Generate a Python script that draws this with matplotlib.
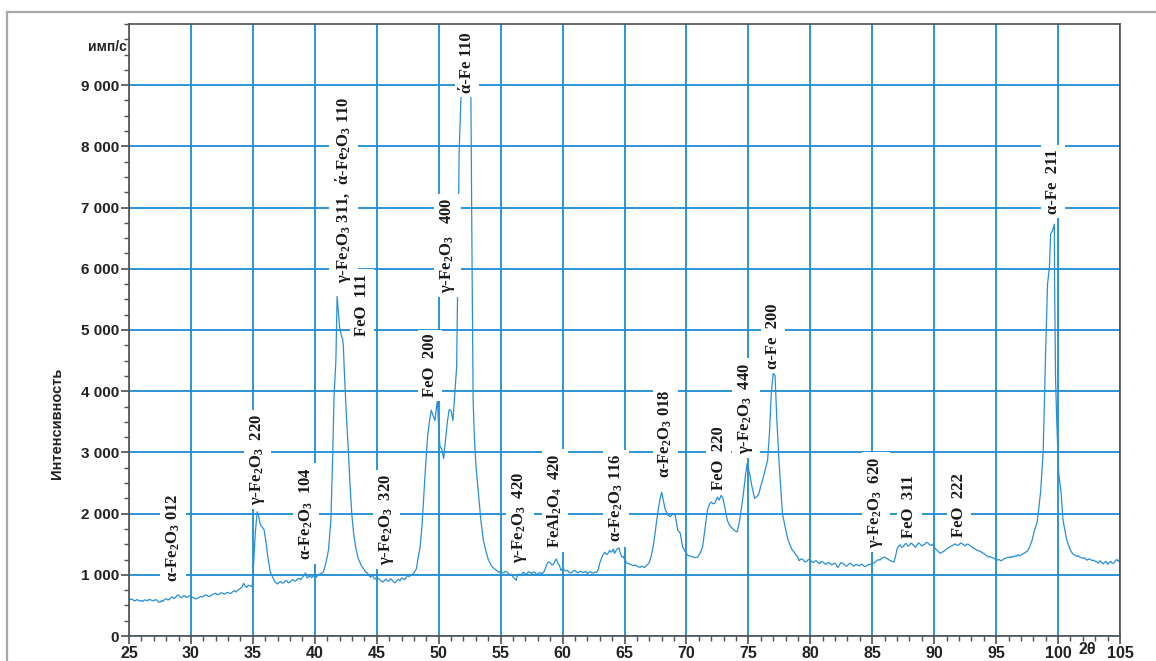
import matplotlib
matplotlib.use("Agg")
import matplotlib.pyplot as plt
from matplotlib.ticker import FixedLocator, MultipleLocator
from matplotlib.lines import Line2D

plt.rcParams['mathtext.fontset'] = 'custom'
plt.rcParams['mathtext.rm'] = 'Liberation Serif:bold'
plt.rcParams['mathtext.it'] = 'Liberation Serif:italic:bold'
plt.rcParams['mathtext.bf'] = 'Liberation Serif:bold'
plt.rcParams['mathtext.default'] = 'rm'

# ---------------- data ----------------
# diffractogram: (2θ in degrees, intensity in counts/s)
spectrum = [
    (25.000, 620), (25.125, 595), (25.250, 605), (25.375, 580), (25.500, 575), (25.625, 595),
    (25.750, 585), (25.875, 570), (26.000, 580), (26.125, 565), (26.250, 590), (26.375, 585),
    (26.500, 575), (26.625, 600), (26.750, 590), (26.875, 580), (27.000, 575), (27.125, 595),
    (27.250, 585), (27.375, 555), (27.500, 550), (27.625, 580), (27.750, 565), (27.875, 600),
    (28.000, 610), (28.125, 590), (28.250, 595), (28.375, 625), (28.500, 640), (28.625, 610),
    (28.750, 630), (28.875, 665), (29.000, 670), (29.125, 635), (29.250, 625), (29.375, 650),
    (29.500, 660), (29.625, 630), (29.750, 640), (29.875, 655), (30.000, 660), (30.125, 630),
    (30.250, 620), (30.375, 605), (30.500, 615), (30.625, 625), (30.750, 645), (30.875, 635),
    (31.000, 650), (31.125, 665), (31.250, 670), (31.375, 650), (31.500, 645), (31.625, 665),
    (31.750, 680), (31.875, 690), (32.000, 700), (32.125, 675), (32.250, 680), (32.375, 700),
    (32.500, 705), (32.625, 690), (32.750, 685), (32.875, 710), (33.000, 710), (33.125, 695),
    (33.250, 700), (33.375, 725), (33.500, 740), (33.625, 720), (33.750, 745), (33.875, 760),
    (34.000, 780), (34.125, 800), (34.250, 860), (34.375, 820), (34.500, 790), (34.625, 830),
    (34.750, 820), (34.875, 810), (34.950, 830), (35.050, 1150), (35.200, 1700), (35.350, 2030),
    (35.450, 1980), (35.600, 1820), (35.750, 1780), (35.900, 1740), (36.050, 1550), (36.200, 1300),
    (36.400, 1050), (36.600, 960), (36.800, 880), (37.000, 850), (37.125, 880), (37.250, 890),
    (37.375, 865), (37.500, 870), (37.625, 905), (37.750, 900), (37.875, 870), (38.000, 880),
    (38.125, 910), (38.250, 920), (38.375, 895), (38.500, 905), (38.625, 935), (38.750, 940),
    (38.875, 920), (39.000, 960), (39.125, 990), (39.250, 1030), (39.375, 950), (39.500, 965),
    (39.625, 980), (39.750, 955), (39.875, 975), (40.000, 990), (40.125, 960), (40.250, 1000),
    (40.375, 1010), (40.500, 1020), (40.700, 1050), (40.900, 1200), (41.100, 1400), (41.300, 1900),
    (41.450, 3000), (41.550, 3900), (41.700, 4500), (41.800, 5550), (41.900, 5300), (42.000, 5050),
    (42.150, 4900), (42.250, 4850), (42.300, 4750), (42.400, 4250), (42.550, 3600), (42.700, 3050),
    (42.850, 2450), (43.000, 1950), (43.150, 1650), (43.300, 1450), (43.500, 1270), (43.750, 1150),
    (44.000, 1080), (44.125, 1040), (44.250, 1030), (44.375, 990), (44.500, 960), (44.625, 1000),
    (44.750, 950), (44.875, 930), (45.000, 960), (45.125, 940), (45.250, 920), (45.375, 900),
    (45.500, 880), (45.625, 910), (45.750, 930), (45.875, 895), (46.000, 900), (46.125, 935),
    (46.250, 910), (46.375, 880), (46.500, 870), (46.625, 905), (46.750, 930), (46.875, 900),
    (47.000, 950), (47.125, 935), (47.250, 920), (47.375, 960), (47.500, 990), (47.625, 970),
    (47.750, 1000), (47.875, 1010), (48.000, 1030), (48.200, 1100), (48.350, 1290), (48.500, 1450),
    (48.650, 1800), (48.800, 2300), (48.950, 2800), (49.100, 3250), (49.250, 3500), (49.400, 3690),
    (49.550, 3600), (49.700, 3520), (49.800, 3700), (49.900, 3850), (50.000, 3400), (50.100, 3100),
    (50.250, 3050), (50.400, 2900), (50.550, 3200), (50.700, 3500), (50.850, 3700), (51.000, 3680),
    (51.150, 3520), (51.300, 3960), (51.450, 4400), (51.550, 6000), (51.650, 7900), (51.800, 8800),
    (52.000, 9100), (52.200, 9200), (52.400, 9100), (52.600, 8800), (52.700, 5900), (52.780, 3850),
    (52.880, 3250), (53.000, 2800), (53.200, 2350), (53.400, 1900), (53.600, 1570), (53.800, 1400),
    (54.000, 1250), (54.250, 1150), (54.375, 1120), (54.500, 1100), (54.625, 1080), (54.750, 1060),
    (54.875, 1040), (55.000, 1060), (55.125, 1035), (55.250, 1030), (55.375, 1055), (55.500, 1050),
    (55.625, 1020), (55.750, 1000), (55.875, 1010), (56.000, 960), (56.125, 940), (56.250, 910),
    (56.375, 1000), (56.500, 1010), (56.625, 985), (56.750, 1030), (56.875, 1040), (57.000, 1010),
    (57.125, 1020), (57.250, 1050), (57.375, 1040), (57.500, 1020), (57.625, 1045), (57.750, 1040),
    (57.875, 1015), (58.000, 1010), (58.125, 1035), (58.250, 1030), (58.375, 1020), (58.500, 1050),
    (58.625, 1110), (58.750, 1180), (58.875, 1210), (59.000, 1200), (59.125, 1160), (59.250, 1170),
    (59.375, 1220), (59.500, 1260), (59.625, 1190), (59.750, 1150), (59.875, 1070), (60.000, 1110),
    (60.125, 1080), (60.250, 1060), (60.375, 1075), (60.500, 1050), (60.625, 1030), (60.750, 1040),
    (60.875, 1065), (61.000, 1070), (61.125, 1045), (61.250, 1030), (61.375, 1050), (61.500, 1060),
    (61.625, 1035), (61.750, 1040), (61.875, 1055), (62.000, 1020), (62.125, 1040), (62.250, 1050),
    (62.375, 1030), (62.500, 1030), (62.625, 1045), (62.750, 1040), (62.875, 1080), (63.000, 1190),
    (63.125, 1260), (63.200, 1300), (63.400, 1370), (63.550, 1330), (63.700, 1360), (63.800, 1400),
    (63.900, 1370), (64.000, 1380), (64.100, 1420), (64.200, 1350), (64.300, 1390), (64.400, 1420),
    (64.550, 1440), (64.650, 1360), (64.800, 1290), (64.900, 1300), (65.000, 1250), (65.100, 1220),
    (65.200, 1190), (65.350, 1180), (65.500, 1170), (65.625, 1155), (65.750, 1150), (65.875, 1160),
    (66.000, 1140), (66.125, 1130), (66.250, 1120), (66.375, 1140), (66.500, 1130), (66.625, 1120),
    (66.750, 1150), (66.875, 1170), (67.000, 1200), (67.150, 1300), (67.300, 1450), (67.450, 1650),
    (67.600, 1890), (67.750, 2100), (67.900, 2270), (68.000, 2350), (68.150, 2200), (68.300, 2060),
    (68.500, 1980), (68.700, 1950), (68.900, 2000), (69.100, 1970), (69.300, 1730), (69.500, 1680),
    (69.700, 1450), (69.900, 1380), (70.100, 1320), (70.400, 1300), (70.700, 1280), (70.900, 1290),
    (71.100, 1350), (71.300, 1450), (71.500, 1750), (71.700, 2060), (71.850, 2150), (72.000, 2190),
    (72.150, 2160), (72.300, 2170), (72.500, 2270), (72.650, 2220), (72.800, 2300), (72.950, 2250),
    (73.100, 2100), (73.300, 1890), (73.500, 1800), (73.700, 1760), (73.900, 1720), (74.100, 1700),
    (74.300, 1890), (74.450, 2100), (74.600, 2330), (74.750, 2600), (74.900, 2820), (75.000, 2740),
    (75.150, 2600), (75.300, 2430), (75.500, 2250), (75.700, 2280), (75.850, 2330), (76.000, 2450),
    (76.200, 2590), (76.400, 2750), (76.550, 2870), (76.700, 3310), (76.850, 3960), (77.000, 4290),
    (77.150, 4260), (77.300, 3520), (77.500, 2760), (77.750, 2000), (78.000, 1750), (78.200, 1570),
    (78.500, 1420), (78.800, 1340), (78.950, 1300), (79.100, 1230), (79.250, 1260), (79.400, 1250),
    (79.550, 1210), (79.700, 1220), (79.850, 1250), (80.000, 1240), (80.125, 1210), (80.250, 1200),
    (80.375, 1225), (80.500, 1230), (80.625, 1200), (80.750, 1180), (80.875, 1215), (81.000, 1210),
    (81.125, 1190), (81.250, 1170), (81.375, 1195), (81.500, 1200), (81.625, 1180), (81.750, 1160),
    (81.875, 1185), (82.000, 1190), (82.125, 1150), (82.250, 1120), (82.375, 1170), (82.500, 1200),
    (82.625, 1185), (82.750, 1170), (82.875, 1140), (83.000, 1150), (83.125, 1180), (83.250, 1190),
    (83.375, 1160), (83.500, 1140), (83.625, 1165), (83.750, 1170), (83.875, 1150), (84.000, 1150),
    (84.125, 1175), (84.250, 1160), (84.375, 1135), (84.500, 1140), (84.625, 1160), (84.750, 1170),
    (84.875, 1165), (85.000, 1200), (85.125, 1190), (85.250, 1210), (85.375, 1230), (85.500, 1250),
    (85.625, 1240), (85.750, 1270), (85.875, 1280), (86.000, 1290), (86.125, 1270), (86.250, 1260),
    (86.375, 1240), (86.500, 1230), (86.625, 1215), (86.750, 1210), (86.875, 1300), (87.000, 1420),
    (87.125, 1470), (87.250, 1490), (87.375, 1450), (87.500, 1460), (87.625, 1500), (87.750, 1510),
    (87.875, 1470), (88.000, 1480), (88.125, 1520), (88.250, 1500), (88.375, 1470), (88.500, 1450),
    (88.625, 1490), (88.750, 1520), (88.875, 1500), (89.000, 1470), (89.125, 1490), (89.250, 1500),
    (89.375, 1530), (89.500, 1520), (89.625, 1490), (89.750, 1480), (89.875, 1500), (90.000, 1450),
    (90.125, 1420), (90.250, 1400), (90.375, 1370), (90.500, 1350), (90.625, 1370), (90.750, 1380),
    (90.875, 1400), (91.000, 1420), (91.125, 1440), (91.250, 1450), (91.375, 1470), (91.500, 1480),
    (91.625, 1500), (91.750, 1500), (91.875, 1480), (92.000, 1490), (92.125, 1520), (92.250, 1510),
    (92.375, 1490), (92.500, 1470), (92.625, 1500), (92.750, 1500), (92.875, 1480), (93.000, 1460),
    (93.125, 1440), (93.250, 1430), (93.375, 1410), (93.500, 1400), (93.625, 1390), (93.750, 1380),
    (93.875, 1360), (94.000, 1350), (94.125, 1330), (94.250, 1310), (94.375, 1290), (94.500, 1300),
    (94.625, 1280), (94.750, 1280), (94.875, 1260), (95.000, 1270), (95.125, 1240), (95.250, 1250),
    (95.375, 1230), (95.500, 1240), (95.625, 1260), (95.750, 1270), (95.875, 1280), (96.000, 1290),
    (96.125, 1280), (96.250, 1300), (96.375, 1290), (96.500, 1310), (96.625, 1300), (96.750, 1330),
    (96.875, 1310), (97.000, 1320), (97.125, 1340), (97.250, 1350), (97.375, 1370), (97.500, 1380),
    (97.700, 1450), (97.900, 1560), (98.100, 1730), (98.300, 1850), (98.400, 2000), (98.600, 2380),
    (98.800, 3030), (98.900, 3850), (99.000, 4670), (99.150, 5750), (99.300, 6020), (99.400, 6570),
    (99.550, 6620), (99.700, 6730), (99.720, 5750), (99.760, 4880), (99.800, 4180), (99.900, 3470),
    (100.050, 2660), (100.250, 2330), (100.400, 1890), (100.700, 1570), (101.000, 1400), (101.125, 1360),
    (101.250, 1330), (101.375, 1320), (101.500, 1300), (101.625, 1310), (101.750, 1290), (101.875, 1280),
    (102.000, 1270), (102.125, 1280), (102.250, 1250), (102.375, 1240), (102.500, 1260), (102.625, 1250),
    (102.750, 1230), (102.875, 1240), (103.000, 1220), (103.125, 1210), (103.250, 1190), (103.375, 1230),
    (103.500, 1210), (103.625, 1180), (103.750, 1200), (103.875, 1220), (104.000, 1170), (104.125, 1200),
    (104.250, 1220), (104.375, 1190), (104.500, 1190), (104.625, 1230), (104.750, 1250), (104.875, 1220),
    (105.000, 1260),
]
two_theta = [p[0] for p in spectrum]
intensity = [p[1] for p in spectrum]

x_ticks = [25, 30, 35, 40, 45, 50, 55, 60, 65, 70, 75, 80, 85, 90, 95, 100, 105]
x_tick_labels = ['25', '30', '35', '40', '45', '50', '55', '60', '65', '70', '75',
                 '80', '85', '90', '95', '100', '105']
y_ticks = [0, 1000, 2000, 3000, 4000, 5000, 6000, 7000, 8000, 9000]
y_tick_labels = ['0', '1 000', '2 000', '3 000', '4 000', '5 000', '6 000',
                 '7 000', '8 000', '9 000']

FO = r'Fe$_2$O$_3$'
peak_labels = [
    'α-' + FO + ' 012',
    'γ-' + FO + '  220',
    'α-' + FO + '  104',
    'γ-' + FO + ' 311,  ά-' + FO + ' 110',
    'FeO  111',
    'γ-' + FO + '  320',
    'FeO  200',
    'γ-' + FO + '   400',
    'ά-Fe 110',
    'γ-' + FO + '  420',
    r'FeAl$_2$O$_4$  420',
    'α-' + FO + ' 116',
    'α-' + FO + ' 018',
    'FeO  220',
    'γ-' + FO + '  440',
    'α-Fe  200',
    'γ-' + FO + '  620',
    'FeO  311',
    'FeO  222',
    'α-Fe  211',
]
peak_label_x = [28.55, 35.4, 39.3, 42.3, 43.8, 45.8, 49.3, 50.7, 52.3, 56.56,
                59.4, 64.3, 68.3, 72.6, 74.8, 77.0, 85.3, 88.0, 92.0, 99.6]
peak_label_y = [880, 2140, 1240, 5760, 4910, 1160, 3900, 5600, 8870, 1190,
                1440, 1530, 2580, 2380, 2980, 4370, 1440, 1600, 1610, 6900]

# ---------------- figure ----------------
W, H = 1156, 661
fig = plt.figure(figsize=(W / 100, H / 100), dpi=100)
fig.patch.set_facecolor('white')

left, right, bottom, top = 129, 1120, 636, 24
ax = fig.add_axes([left / W, 1 - bottom / H, (right - left) / W, (bottom - top) / H])

blue = '#1c8cd6'
line_blue = '#2a8fd8'

ax.set_xlim(25, 105)
ax.set_ylim(0, 10000)

ax.xaxis.set_major_locator(FixedLocator(x_ticks))
ax.set_xticklabels(x_tick_labels)
ax.xaxis.set_minor_locator(MultipleLocator(1))
ax.yaxis.set_major_locator(FixedLocator(y_ticks))
ax.set_yticklabels(y_tick_labels)
ax.yaxis.set_minor_locator(MultipleLocator(250))

ax.grid(True, which='major', color=blue, linewidth=1.3, zorder=1)
ax.set_axisbelow(True)

ax.plot(two_theta, intensity, color=line_blue, linewidth=0.9, zorder=2)

for s in ax.spines.values():
    s.set_color('#505050')
    s.set_linewidth(1.2)
    s.set_zorder(4)

ax.tick_params(axis='both', which='major', direction='out', length=6, width=1.2,
               color='#505050', pad=1)
ax.tick_params(axis='both', which='minor', direction='out', length=3.5, width=1.0,
               color='#505050')
for lab in ax.get_xticklabels():
    lab.set_fontfamily('Liberation Sans')
    lab.set_fontweight('bold')
    lab.set_fontsize(11.5)
    lab.set_color('#222222')
for lab in ax.get_yticklabels():
    lab.set_fontfamily('Liberation Sans')
    lab.set_fontweight('bold')
    lab.set_fontsize(11)
    lab.set_color('#222222')

for txt, xv, yv in zip(peak_labels, peak_label_x, peak_label_y):
    ax.text(xv, yv, txt, rotation=90, ha='center', va='bottom',
            family=['Liberation Serif', 'DejaVu Serif'], fontweight='bold',
            fontsize=12, color='#1a1a1a', zorder=5,
            bbox=dict(facecolor='white', edgecolor='none', pad=3))

fig.text(127 / W, 1 - 47 / H, 'имп/с', ha='right', va='center',
         family='Liberation Sans', fontweight='bold', fontsize=10, color='#222222')
fig.text(57 / W, 1 - 423 / H, 'Интенсивность', ha='center', va='center', rotation=90,
         family='Liberation Sans', fontweight='bold', fontsize=10.5, color='#222222')
fig.text(1087 / W, 1 - 650 / H, '2θ', ha='center', va='center',
         family=['Liberation Sans', 'DejaVu Sans'], fontweight='bold', fontsize=11.5,
         color='#222222')

# outer frame lines
fig.add_artist(Line2D([7 / W, 7 / W], [0, 1 - 12 / H], transform=fig.transFigure,
                      color='#a8a8a8', linewidth=1.6))
fig.add_artist(Line2D([7 / W, 1], [1 - 12 / H, 1 - 12 / H], transform=fig.transFigure,
                      color='#a8a8a8', linewidth=1.6))

fig.savefig('out.png', dpi=100, facecolor='white')
